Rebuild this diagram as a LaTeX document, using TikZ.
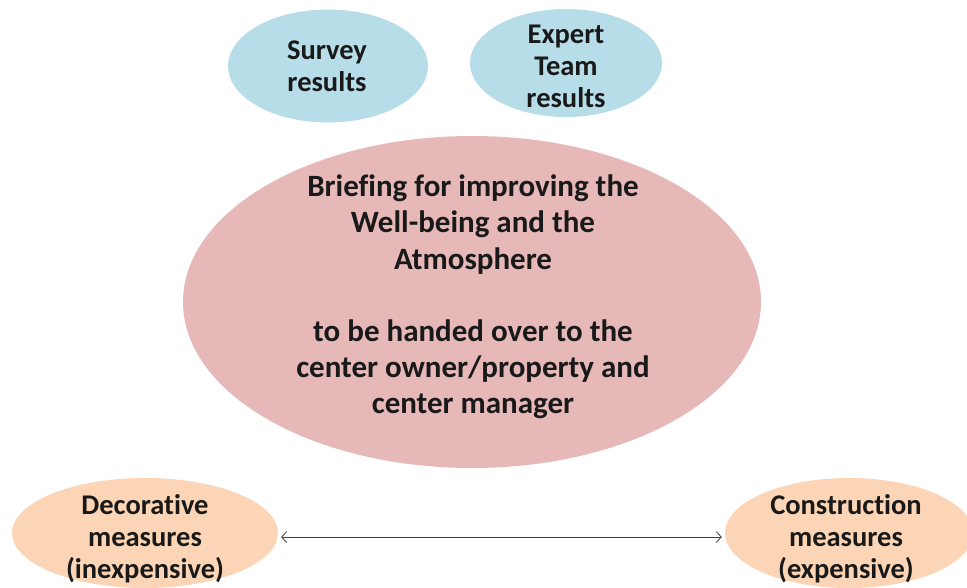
\documentclass[tikz,border=0pt]{standalone}
\usepackage{fontspec}
\setmainfont{Carlito}[Ligatures=NoCommon]
\usepackage{tikz}
\usetikzlibrary{arrows.meta,shapes.geometric}
\definecolor{paleblue}{RGB}{183,221,232}
\definecolor{dustrose}{RGB}{230,185,184}
\definecolor{peach}{RGB}{251,213,181}
\definecolor{inkgrey}{RGB}{60,60,60}

\begin{document}
\begin{tikzpicture}[x=1pt, y=-1pt,
    blob/.style={ellipse, draw=none, inner sep=0pt},
    blobtext/.style={align=center, inner sep=0pt, text=black!90,
      font=\bfseries\fontsize{28.5}{32}\selectfont},
    bigtext/.style={blobtext, font=\bfseries\fontsize{31}{36.2}\selectfont},
  ]
  \useasboundingbox (0,0) rectangle (967,588);
  \clip (0,0) rectangle (967,588);

  \node[blob, fill=paleblue, minimum width=200pt, minimum height=113pt] (survey) at (328,66) {};
  \node[blobtext] (surveytxt) at (327,66) {Survey\\results};

  \node[blob, fill=paleblue, minimum width=192pt, minimum height=108pt] (expert) at (566,63) {};
  \node[blobtext] (experttxt) at (566,66) {Expert\\Team\\results};

  \node[blob, fill=dustrose, minimum width=578pt, minimum height=332pt] (brief) at (472,302) {};
  \node[bigtext] (brieftxt) at (473,297) {Briefing for improving the\\Well-being and the\\Atmosphere\\[36.2pt]
    to be handed over to the\\center owner/property and\\center manager};

  \node[blob, fill=peach, minimum width=266pt, minimum height=110pt] (deco) at (145,533) {};
  \node[blobtext] (decotxt) at (145,539) {Decorative\\measures\\(inexpensive)};

  \node[blob, fill=peach, minimum width=248pt, minimum height=110pt] (constr) at (849,533) {};
  \node[blobtext] (constrtxt) at (846,539) {Construction\\measures\\(expensive)};

  \draw[inkgrey, line width=0.8pt, {Straight Barb[length=5pt,width=11pt]}-{Straight Barb[length=5pt,width=11pt]},
    shorten <=3pt, shorten >=3pt]
    ([yshift=-4pt]deco.east) -- ([yshift=-4pt]constr.west);
\end{tikzpicture}
\end{document}
